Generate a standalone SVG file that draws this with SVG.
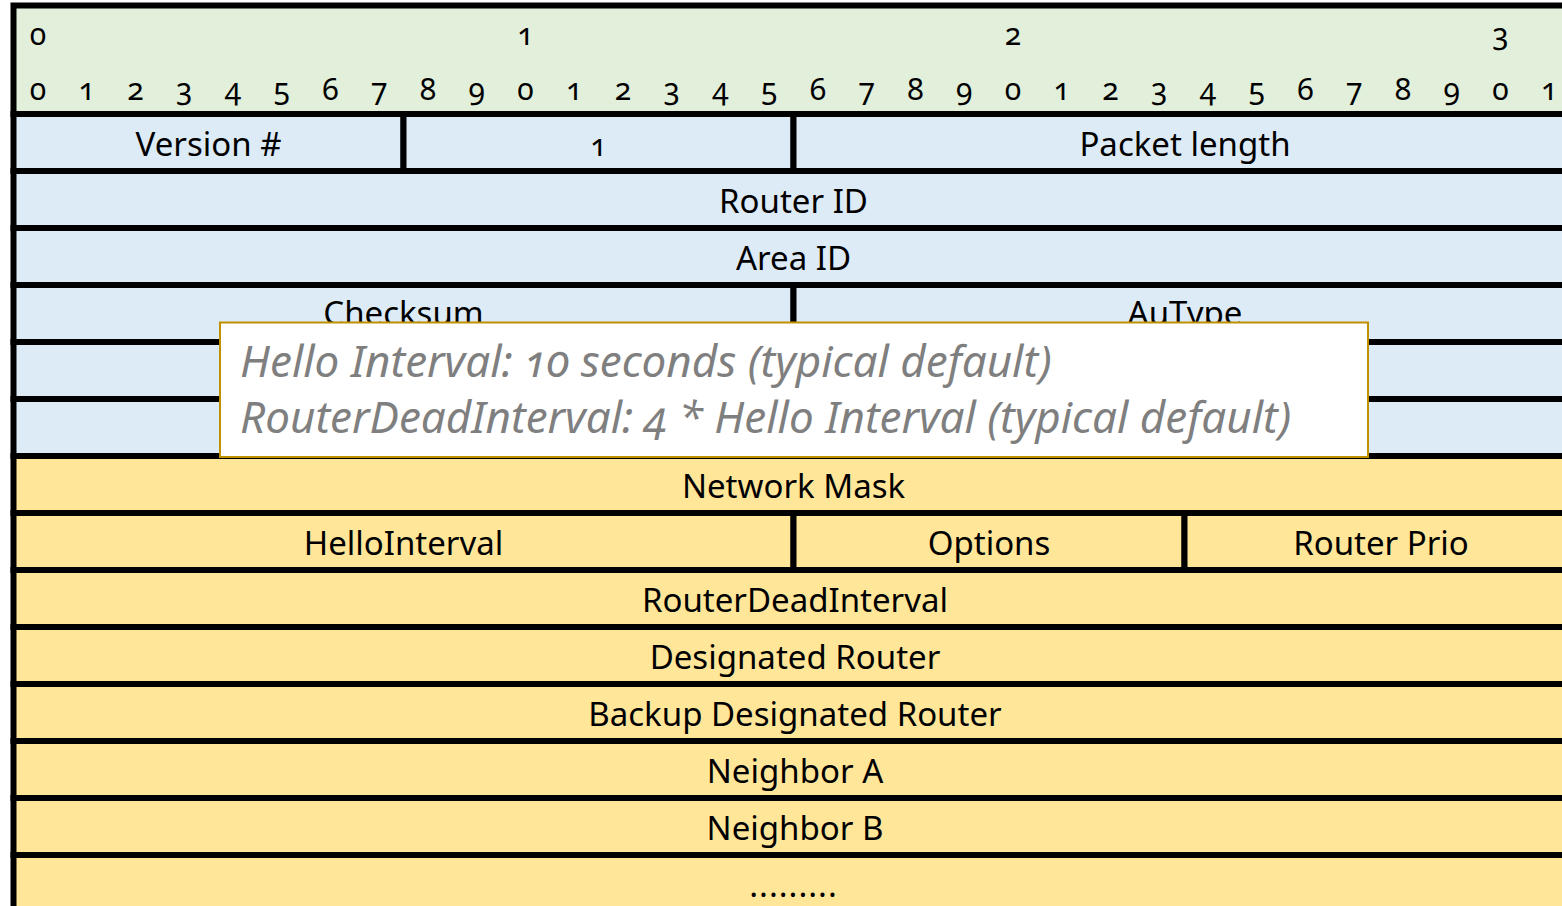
<svg xmlns="http://www.w3.org/2000/svg" width="1562" height="906" viewBox="0 0 1562 906">
<style>
.hd{fill:#E2EFDA;stroke:#000;stroke-width:6}
.bl{fill:#DDEBF7;stroke:#000;stroke-width:6}
.ye{fill:#FFE699;stroke:#000;stroke-width:6}
text{font-family:"Noto Sans","Open Sans",sans-serif;fill:#000;}
.t{font-size:33px;text-anchor:middle}
.d{font-size:30px;text-anchor:middle;font-variant-numeric:oldstyle-nums;font-feature-settings:"onum" 1}
.pop{fill:#FFFFFF;stroke:#BF9000;stroke-width:2}
.pt{font-size:44px;font-style:italic;fill:#7F7F7F;font-variant-numeric:oldstyle-nums;font-feature-settings:"onum" 1}
</style>
<rect x="0" y="0" width="1562" height="906" fill="#FFFFFF"/>
<g id="header">
<rect class="hd" x="13.5" y="5.5" width="1560" height="108.5"/>
<text class="d" x="38" y="45">0</text>
<text class="d" x="525.5" y="45">1</text>
<text class="d" x="1013" y="45">2</text>
<text class="d" x="1500.5" y="45">3</text>
<text class="d" y="100"><tspan x="37.9">0</tspan><tspan x="86.6">1</tspan><tspan x="135.4">2</tspan><tspan x="184.1">3</tspan><tspan x="232.9">4</tspan><tspan x="281.6">5</tspan><tspan x="330.4">6</tspan><tspan x="379.1">7</tspan><tspan x="427.9">8</tspan><tspan x="476.6">9</tspan><tspan x="525.4">0</tspan><tspan x="574.1">1</tspan><tspan x="622.9">2</tspan><tspan x="671.6">3</tspan><tspan x="720.4">4</tspan><tspan x="769.1">5</tspan><tspan x="817.9">6</tspan><tspan x="866.6">7</tspan><tspan x="915.4">8</tspan><tspan x="964.1">9</tspan><tspan x="1012.9">0</tspan><tspan x="1061.6">1</tspan><tspan x="1110.4">2</tspan><tspan x="1159.1">3</tspan><tspan x="1207.9">4</tspan><tspan x="1256.6">5</tspan><tspan x="1305.4">6</tspan><tspan x="1354.1">7</tspan><tspan x="1402.9">8</tspan><tspan x="1451.6">9</tspan><tspan x="1500.4">0</tspan><tspan x="1549.1">1</tspan></text>
</g>
<g id="version"><rect class="bl" x="13.5" y="114" width="390" height="57"/><text class="t" x="208.5" y="156">Version #</text></g>
<g id="type"><rect class="bl" x="403.5" y="114" width="390" height="57"/><text class="d" x="598.5" y="156">1</text></g>
<g id="packet-length"><rect class="bl" x="793.5" y="114" width="780" height="57"/><text class="t" x="1185" y="156">Packet length</text></g>
<g id="router-id"><rect class="bl" x="13.5" y="171" width="1560" height="57"/><text class="t" x="793.5" y="213">Router ID</text></g>
<g id="area-id"><rect class="bl" x="13.5" y="228" width="1560" height="57"/><text class="t" x="793.5" y="270">Area ID</text></g>
<g id="checksum"><rect class="bl" x="13.5" y="285" width="780" height="57"/><text class="t" x="403.5" y="325">Checksum</text></g>
<g id="autype"><rect class="bl" x="793.5" y="285" width="780" height="57"/><text class="t" x="1185" y="325">AuType</text></g>
<g id="auth1"><rect class="bl" x="13.5" y="342" width="1560" height="57"/></g>
<g id="auth2"><rect class="bl" x="13.5" y="399" width="1560" height="57"/></g>
<g id="network-mask"><rect class="ye" x="13.5" y="456" width="1560" height="57"/><text class="t" x="793.5" y="498">Network Mask</text></g>
<g id="hello-interval"><rect class="ye" x="13.5" y="513" width="780" height="57"/><text class="t" x="403.5" y="555">HelloInterval</text></g>
<g id="options"><rect class="ye" x="793.5" y="513" width="391" height="57"/><text class="t" x="989" y="555">Options</text></g>
<g id="router-prio"><rect class="ye" x="1184.5" y="513" width="389" height="57"/><text class="t" x="1381" y="555">Router Prio</text></g>
<g id="dead-interval"><rect class="ye" x="13.5" y="570" width="1560" height="57"/><text class="t" x="795" y="612">RouterDeadInterval</text></g>
<g id="dr"><rect class="ye" x="13.5" y="627" width="1560" height="57"/><text class="t" x="795" y="669">Designated Router</text></g>
<g id="bdr"><rect class="ye" x="13.5" y="684" width="1560" height="57"/><text class="t" x="795" y="726">Backup Designated Router</text></g>
<g id="neighbor-a"><rect class="ye" x="13.5" y="741" width="1560" height="57"/><text class="t" x="795" y="783">Neighbor A</text></g>
<g id="neighbor-b"><rect class="ye" x="13.5" y="798" width="1560" height="57"/><text class="t" x="795" y="840">Neighbor B</text></g>
<g id="more"><rect class="ye" x="13.5" y="855" width="1560" height="70"/><text class="t" x="793.5" y="897" letter-spacing="1">.........</text></g>
<g id="note">
<rect class="pop" x="220" y="322.5" width="1148" height="134.5"/>
<text class="pt" x="240" y="377">Hello Interval: 10 seconds (typical default)</text>
<text class="pt" x="240" y="433">RouterDeadInterval: 4 * Hello Interval (typical default)</text>
</g>
<g id="connectors"/>
</svg>
